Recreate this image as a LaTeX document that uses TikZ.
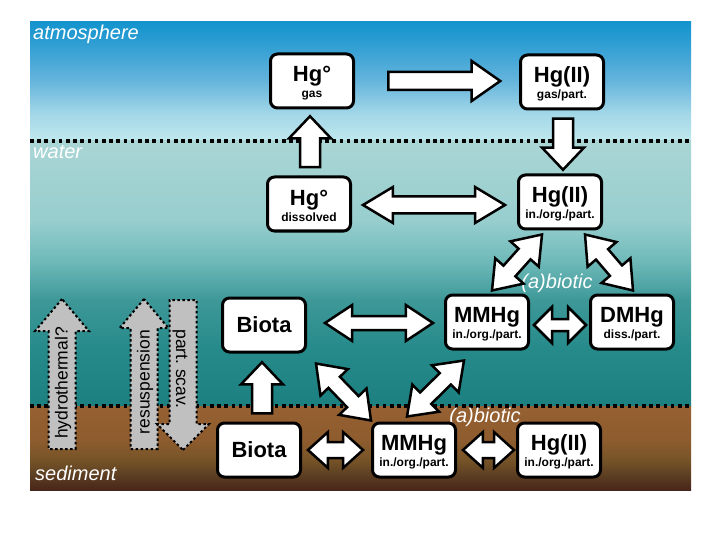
\documentclass[tikz,border=0pt]{standalone}
\usepackage{fontspec}
\setmainfont{Liberation Sans}
\usetikzlibrary{calc,shapes.arrows}

\definecolor{air0}{RGB}{192,232,238}
\definecolor{air1}{RGB}{165,216,232}
\definecolor{air2}{RGB}{100,180,220}
\definecolor{air3}{RGB}{42,156,210}
\definecolor{air4}{RGB}{20,148,205}
\definecolor{sea0}{RGB}{28,128,128}
\definecolor{sea1}{RGB}{38,138,138}
\definecolor{sea2}{RGB}{62,152,152}
\definecolor{sea3}{RGB}{112,186,186}
\definecolor{sea4}{RGB}{152,206,206}
\definecolor{sea5}{RGB}{170,213,213}
\definecolor{mud0}{RGB}{72,38,26}
\definecolor{mud1}{RGB}{92,62,34}
\definecolor{mud2}{RGB}{118,84,40}
\definecolor{mud3}{RGB}{142,92,46}
\definecolor{mud4}{RGB}{150,96,50}
\definecolor{scavgray}{RGB}{192,192,192}

\pgfdeclareverticalshading{airfade}{100bp}{color(0bp)=(air0); color(25bp)=(air0);
  color(35.9bp)=(air1); color(50.6bp)=(air2); color(67.4bp)=(air3); color(75bp)=(air4); color(100bp)=(air4)}
\pgfdeclareverticalshading{seafade}{100bp}{color(0bp)=(sea0); color(25bp)=(sea0);
  color(35.6bp)=(sea1); color(45bp)=(sea2); color(52.5bp)=(sea3); color(60.1bp)=(sea4); color(75bp)=(sea5); color(100bp)=(sea5)}
\pgfdeclareverticalshading{mudfade}{100bp}{color(0bp)=(mud0); color(25bp)=(mud0);
  color(33.9bp)=(mud1); color(42.9bp)=(mud2); color(54.8bp)=(mud3); color(75bp)=(mud4); color(100bp)=(mud4)}

\newcommand{\main}[1]{{\fontsize{22}{22}\selectfont\rule{0pt}{20pt}#1}}
% one-way flux: tail at #3, tip at #4
\newcommand{\oneway}[4]{%
  \path let \p1=(#3), \p2=(#4), \n1={atan2(\y2-\y1,\x2-\x1)}, \n2={veclen(\x2-\x1,\y2-\y1)}
    in node[#1, rotate=\n1, minimum height=\n2] (#2) at (\p1) {};}
% two-way flux between #3 and #4
\newcommand{\twoway}[4]{%
  \path let \p1=(#3), \p2=(#4), \n1={atan2(\y2-\y1,\x2-\x1)}, \n2={veclen(\x2-\x1,\y2-\y1)}
    in node[#1, rotate=\n1, minimum height=\n2] (#2) at ($(\p1)!0.5!(\p2)$) {};}

\tikzset{
  box/.style={draw, fill=white, line width=3pt, rounded corners=7pt, minimum width=83pt,
    minimum height=54pt, inner sep=0pt, align=center, font=\fontsize{12}{16}\selectfont\bfseries},
  zone/.style={text=white, font=\fontsize{20}{20}\selectfont\itshape, inner sep=0pt},
  interface/.style={line width=4pt, dash pattern=on 3.5pt off 3.7pt},
  flux/.style={draw, fill=white, line width=2.5pt, inner xsep=0pt, minimum width=0pt},
  onelong/.style={flux, single arrow, anchor=tail, inner ysep=7.75pt,
    single arrow head extend=11pt, single arrow tip angle=70},
  oneup/.style={flux, single arrow, anchor=tail, inner ysep=8.75pt,
    single arrow head extend=11pt, single arrow tip angle=87},
  twolong/.style={flux, double arrow, inner ysep=7.25pt,
    double arrow head extend=9.5pt, double arrow tip angle=62},
  twomid/.style={flux, double arrow, inner ysep=5.75pt,
    double arrow head extend=11pt, double arrow tip angle=67},
  twoshort/.style={flux, double arrow, inner ysep=4.75pt,
    double arrow head extend=12pt, double arrow tip angle=90},
  twosed/.style={flux, double arrow, inner ysep=6.75pt,
    double arrow head extend=10pt, double arrow tip angle=84},
  twodiag/.style={flux, double arrow, inner ysep=6.75pt,
    double arrow head extend=11pt, double arrow tip angle=72},
  scav/.style={single arrow, anchor=tail, draw, fill=scavgray, line width=2pt,
    dash pattern=on 2.5pt off 2.5pt, inner xsep=0pt, minimum width=0pt, inner ysep=12.5pt,
    single arrow head extend=#1, single arrow tip angle=80},
  scavtext/.style={font=\fontsize{17.5}{17.5}\selectfont, inner sep=0pt},
}

\begin{document}
\begin{tikzpicture}[x=1pt, y=-1pt]
\useasboundingbox (0,0) rectangle (720,540);
\fill[white] (0,0) rectangle (720,540);
\shade[shading=airfade] (30,22) rectangle (691,141);
\shade[shading=seafade] (30,141) rectangle (691,406);
\shade[shading=mudfade] (30,406) rectangle (691,490);
\draw[interface] (30,141) -- (691,141);
\draw[interface] (30,406) -- (691,406);

\node[zone, anchor=base west] (atm) at (33,40) {atmosphere};
\node[zone, anchor=base west] (wat) at (33,159) {water};
\node[zone, anchor=base west] (sed) at (35,480) {sediment};
\node[zone, anchor=base] (ab1) at (557,288) {(a)biotic};
\node[zone, anchor=base] (ab2) at (485,422) {(a)biotic};

\node[box] (gas) at (312,81) {\main{Hg°}\\gas};
\node[box] (gasII) at (562,82) {\main{Hg(II)}\\gas/part.};
\node[box] (dis) at (309,204) {\main{Hg°}\\dissolved};
\node[box] (hgII) at (560,202) {\main{Hg(II)}\\in./org./part.};
\node[box] (mmw) at (487,322) {\main{MMHg}\\in./org./part.};
\node[box] (dmw) at (632,322) {\main{DMHg}\\diss./part.};
\node[box, font=\fontsize{22}{22}\selectfont\bfseries] (biw) at (264,325) {Biota};
\node[box, font=\fontsize{22}{22}\selectfont\bfseries] (bis) at (259,450) {Biota};
\node[box] (mms) at (414,450) {\main{MMHg}\\in./org./part.};
\node[box] (hgs) at (559,450) {\main{Hg(II)}\\in./org./part.};

\oneway{onelong}{f1}{$(gas.east)+(32,0)$}{$(gasII.west)+(-20,-1)$}
\oneway{oneup}{f2}{$(gasII.south)+(1,7)$}{$(hgII.north)+(3,-5)$}
\oneway{oneup}{f3}{$(dis.north)+(1,-7)$}{$(gas.south)+(-2,8)$}
\oneway{oneup}{f4}{$(bis.north)+(3,-7)$}{$(biw.south)+(-2,10)$}
\twoway{twolong}{f5}{$(dis.east)+(11,1)$}{$(hgII.west)+(-12,3)$}
\twoway{twodiag}{f6}{$(hgII.south)+(-18,4)$}{$(mmw.north)+(5,-3)$}
\twoway{twodiag}{f7}{$(hgII.south)+(25,4)$}{$(dmw.north)+(1,-3)$}
\twoway{twomid}{f8}{$(biw.east)+(18,-2)$}{$(mmw.west)+(-11,1)$}
\twoway{twoshort}{f9}{$(mmw.east)+(4,3)$}{$(dmw.west)+(-3,3)$}
\twoway{twodiag}{f10}{$(biw.south east)+(9,10)$}{$(mms.north west)+(0,-1)$}
\twoway{twodiag}{f11}{$(mmw.south)+(-23,10)$}{$(mms.north)+(-7,-5)$}
\twoway{twosed}{f12}{$(bis.east)+(6,0)$}{$(mms.west)+(-8,0)$}
\twoway{twosed}{f13}{$(mms.east)+(6,0)$}{$(hgs.west)+(-2,0)$}

\coordinate (hy0) at (62,450);
\coordinate (hy1) at (62,300);
\coordinate (re0) at (144,450);
\coordinate (re1) at (144,300);
\coordinate (sc0) at (183,299);
\coordinate (sc1) at (183,449);
\oneway{scav=13.5pt}{hydro}{hy0}{hy1}
\oneway{scav=11pt}{resus}{re0}{re1}
\oneway{scav=12.5pt, single arrow tip angle=90}{part}{sc0}{sc1}
\node[scavtext, rotate=90] (hyt) at (63,383) {hydrothermal?};
\node[scavtext, rotate=90] (ret) at (145,382) {resuspension};
\node[scavtext, rotate=-90] (sct) at (180,369) {part.\ scav.};
\end{tikzpicture}
\end{document}
